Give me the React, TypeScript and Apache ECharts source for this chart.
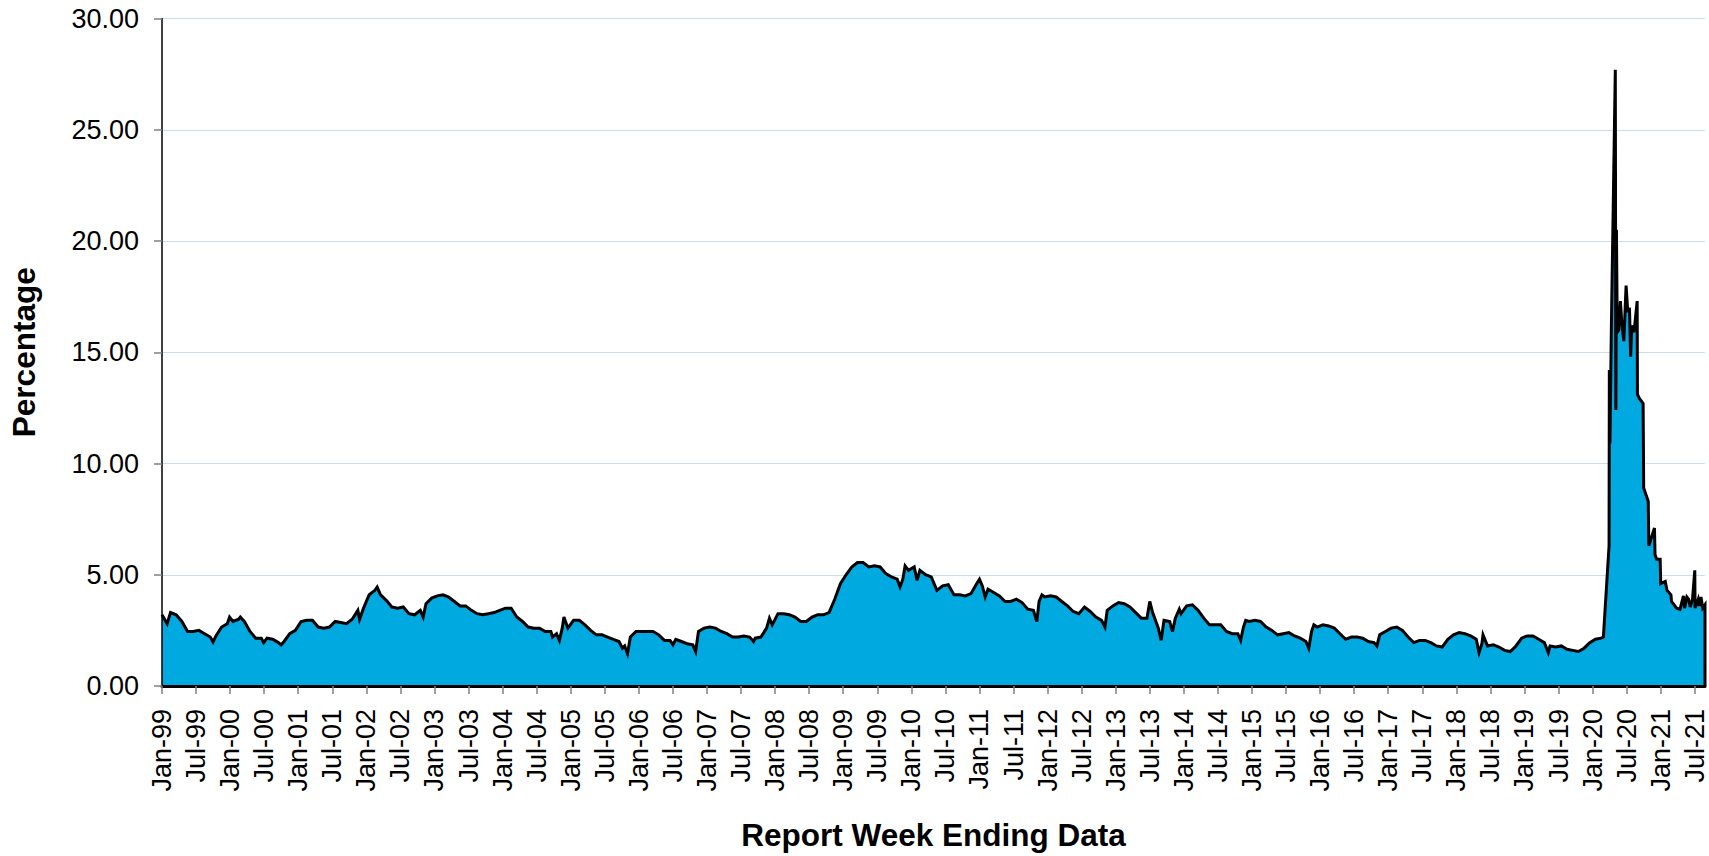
import React, { useEffect, useRef } from "react";
import * as echarts from "echarts";

// Monthly insured rate (percent), Jan..Dec of each year
const y1999 = [3.2, 3.3, 3.2, 2.9, 2.45, 2.45, 2.5, 2.35, 2.2, 2.25, 2.65, 2.8];
const y2000 = [2.9, 3.0, 2.9, 2.45, 2.15, 2.15, 2.15, 2.1, 1.95, 2.0, 2.35, 2.5];
const y2001 = [2.9, 2.95, 2.95, 2.65, 2.6, 2.65, 2.9, 2.85, 2.8, 3.0, 3.4, 3.5];
const y2002 = [4.1, 4.3, 4.1, 3.85, 3.55, 3.5, 3.55, 3.25, 3.2, 3.4, 3.7, 3.95];
const y2003 = [4.05, 4.1, 4.0, 3.8, 3.6, 3.6, 3.4, 3.25, 3.2, 3.25, 3.3, 3.4];
const y2004 = [3.5, 3.5, 3.1, 2.9, 2.65, 2.6, 2.6, 2.45, 2.45, 2.35, 2.6, 2.6];
const y2005 = [2.95, 2.95, 2.75, 2.5, 2.3, 2.3, 2.2, 2.1, 2.0, 1.8, 2.2, 2.45];
const y2006 = [2.45, 2.45, 2.45, 2.3, 2.05, 2.05, 2.1, 2.0, 1.9, 1.85, 2.45, 2.6];
const y2007 = [2.65, 2.6, 2.45, 2.35, 2.2, 2.2, 2.25, 2.2, 2.15, 2.2, 2.6, 2.75];
const y2008 = [3.25, 3.25, 3.2, 3.1, 2.9, 2.9, 3.1, 3.2, 3.2, 3.3, 3.9, 4.6];
const y2009 = [5.0, 5.35, 5.55, 5.55, 5.35, 5.4, 5.35, 5.05, 4.9, 4.8, 4.8, 5.2];
const y2010 = [5.35, 5.2, 5.0, 4.9, 4.3, 4.5, 4.55, 4.1, 4.1, 4.05, 4.15, 4.6];
const y2011 = [4.5, 4.35, 4.2, 4.05, 3.8, 3.8, 3.9, 3.75, 3.45, 3.4, 3.8, 4.0];
const y2012 = [4.05, 4.0, 3.8, 3.6, 3.35, 3.25, 3.55, 3.35, 3.1, 2.95, 3.4, 3.6];
const y2013 = [3.75, 3.7, 3.55, 3.3, 3.05, 3.05, 3.3, 2.6, 2.95, 2.9, 3.05, 3.25];
const y2014 = [3.6, 3.65, 3.4, 3.05, 2.75, 2.75, 2.75, 2.45, 2.35, 2.35, 2.65, 2.9];
const y2015 = [2.95, 2.9, 2.65, 2.5, 2.3, 2.35, 2.4, 2.25, 2.15, 2.0, 2.45, 2.65];
const y2016 = [2.75, 2.7, 2.6, 2.35, 2.1, 2.2, 2.2, 2.15, 2.0, 1.95, 2.3, 2.45];
const y2017 = [2.6, 2.65, 2.5, 2.2, 1.95, 2.05, 2.05, 1.95, 1.8, 1.75, 2.1, 2.3];
const y2018 = [2.4, 2.35, 2.25, 2.1, 1.9, 1.8, 1.85, 1.75, 1.6, 1.55, 1.8, 2.15];
const y2019 = [2.25, 2.25, 2.1, 1.95, 1.8, 1.75, 1.8, 1.65, 1.6, 1.55, 1.7, 1.95];
const y2020Pre = [2.1, 2.15];

// Single-week highs and lows visible as spikes (months since Jan-99, percent)
const spikeMonths = [
  0.9, 9.0, 11.9, 13.8, 17.9, 21.0, 34.8, 37.9, 46.0, 68.8,
  70.0, 70.8, 81.1, 82.0, 90.0, 94.0, 104.2, 107.0, 130.0, 130.9,
  133.0, 144.0, 145.0, 154.1, 155.0, 166.1, 174.0, 176.0, 178.0, 179.2,
  190.0, 190.9, 202.0, 202.9, 214.0, 232.0, 232.7, 244.2,
];
const spikeRates = [
  2.8, 1.98, 3.1, 3.1, 1.95, 1.85, 3.0, 4.45, 3.1, 2.2,
  2.05, 3.1, 1.7, 1.45, 1.85, 1.55, 2.0, 3.05, 4.45, 5.4,
  4.75, 4.8, 4.0, 2.9, 4.1, 2.65, 3.8, 2.05, 2.45, 3.45,
  2.05, 2.95, 1.7, 2.75, 1.8, 1.5, 2.3, 1.5,
];

// Pandemic period, read at finer resolution: position in months since Jan-99
const covidMonths = [
  253.9, 254.9, 254.95, 255.05, 255.3, 256.0, 256.1, 256.2, 256.35, 256.6,
  256.9, 257.15, 257.5, 257.9, 258.2, 258.5, 258.7, 258.9, 259.3, 259.85,
  259.9, 260.3, 260.9, 261.0, 261.8, 261.9, 262.9, 263.0, 263.3, 263.9,
  264.0, 264.8, 265.1, 265.8, 265.9, 266.8, 267.4, 268.0, 268.2, 268.6,
  268.9, 269.2, 269.6, 270.0, 270.05, 270.6, 270.8, 271.1, 271.4, 271.8,
];
const covidRates = [
  2.2, 6.3, 14.2, 10.9, 16.0, 27.7, 12.4, 20.5, 15.9, 16.0,
  17.3, 16.3, 15.5, 18.0, 16.8, 17.0, 14.8, 16.2, 15.9, 17.3,
  13.1, 12.9, 12.7, 8.9, 8.3, 6.3, 7.1, 5.9, 5.7, 5.7,
  4.6, 4.7, 4.3, 4.1, 3.8, 3.5, 3.45, 4.05, 3.5, 4.0,
  3.9, 3.55, 3.9, 5.2, 3.5, 3.9, 3.6, 4.0, 3.5, 3.65,
];

const tickLabels = [
  "Jan-99", "Jul-99", "Jan-00", "Jul-00", "Jan-01", "Jul-01", "Jan-02", "Jul-02",
  "Jan-03", "Jul-03", "Jan-04", "Jul-04", "Jan-05", "Jul-05", "Jan-06", "Jul-06",
  "Jan-07", "Jul-07", "Jan-08", "Jul-08", "Jan-09", "Jul-09", "Jan-10", "Jul-10",
  "Jan-11", "Jul-11", "Jan-12", "Jul-12", "Jan-13", "Jul-13", "Jan-14", "Jul-14",
  "Jan-15", "Jul-15", "Jan-16", "Jul-16", "Jan-17", "Jul-17", "Jan-18", "Jul-18",
  "Jan-19", "Jul-19", "Jan-20", "Jul-20", "Jan-21", "Jul-21",
];

const X_MAX = 271.8;
const FONT = "'Liberation Sans', Arial, Helvetica, sans-serif";

export default function App() {
  const ref = useRef<HTMLDivElement>(null);

  useEffect(() => {
    document.body.style.margin = "0";
    if (!ref.current) return;
    const chart = echarts.init(ref.current, undefined, { renderer: "svg" });

    const monthly = [
      ...y1999, ...y2000, ...y2001, ...y2002, ...y2003, ...y2004, ...y2005,
      ...y2006, ...y2007, ...y2008, ...y2009, ...y2010, ...y2011, ...y2012,
      ...y2013, ...y2014, ...y2015, ...y2016, ...y2017, ...y2018, ...y2019,
      ...y2020Pre,
    ];
    const pre: number[][] = monthly.map((v, i) => [i === 0 ? 0 : i + 0.5, v]);
    spikeMonths.forEach((m, i) => pre.push([m, spikeRates[i]]));
    pre.sort((a, b) => a[0] - b[0]);
    const data: number[][] = pre.slice();
    covidMonths.forEach((m, i) => data.push([m, covidRates[i]]));
    // close the area outline down to the axis at the right end
    data.push([covidMonths[covidMonths.length - 1], 0]);

    const tickValues = tickLabels.map((_, i) => i * 6);

    chart.setOption({
      animation: false,
      backgroundColor: "#ffffff",
      textStyle: { fontFamily: FONT },
      grid: { left: 160, right: 4, top: 18.5, bottom: 169, containLabel: false },
      xAxis: {
        type: "value",
        min: 0,
        max: X_MAX,
        interval: 6,
        z: 10,
        name: "Report Week Ending Data",
        nameLocation: "middle",
        nameGap: 133,
        nameTextStyle: { fontSize: 31.5, fontWeight: "bold", color: "#000", fontFamily: FONT },
        axisLine: { show: true, onZero: false, lineStyle: { color: "#000", width: 3 } },
        axisTick: { show: true, length: 8, customValues: tickValues, lineStyle: { color: "#808080", width: 1.5 } },
        axisLabel: {
          customValues: tickValues,
          rotate: 90,
          margin: 23,
          fontSize: 27,
          lineHeight: 20,
          color: "#000",
          fontFamily: FONT,
          formatter: (v: number) => tickLabels[Math.round(v / 6)] ?? "",
        },
        splitLine: { show: false },
      },
      yAxis: [
        {
          type: "value",
          min: 0,
          max: 30,
          interval: 5,
          z: 10,
          name: "Percentage",
          nameLocation: "middle",
          nameGap: 122,
          nameTextStyle: { fontSize: 31.5, fontWeight: "bold", color: "#000", fontFamily: FONT },
          axisLine: { show: true, lineStyle: { color: "#000", width: 1.5 } },
          axisTick: { show: true, length: 8, lineStyle: { color: "#808080", width: 1.5 } },
          axisLabel: {
            margin: 23,
            fontSize: 27,
            color: "#000",
            fontFamily: FONT,
            formatter: (v: number) => v.toFixed(2),
          },
          splitLine: { show: false },
        },
        {
          type: "value",
          min: 0,
          max: 30,
          interval: 5,
          z: 0,
          axisLine: { show: false },
          axisTick: { show: false },
          axisLabel: { show: false },
          splitLine: { show: true, lineStyle: { color: "#c9ddf1", width: 1.2 } },
        },
      ],
      series: [
        {
          type: "line",
          yAxisIndex: 0,
          data,
          showSymbol: false,
          symbol: "none",
          lineStyle: { color: "#000", width: 3, join: "miter" },
          areaStyle: { color: "#00a9df", opacity: 1 },
          z: 2,
        },
      ],
    });

    return () => chart.dispose();
  }, []);

  return <div ref={ref} style={{ width: 1709, height: 856 }} />;
}
